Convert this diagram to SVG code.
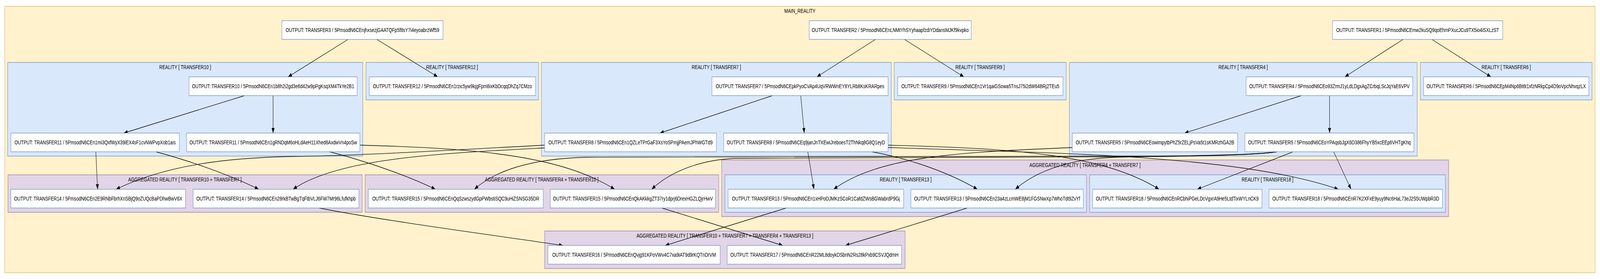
<svg xmlns="http://www.w3.org/2000/svg" width="5443" height="715" viewBox="0 0 5443 715" preserveAspectRatio="none">
<style>
svg{width:100vw;height:100vh;overflow:hidden}
text{font-family:"Liberation Sans",Arial,Helvetica,sans-serif;font-size:14.67px;fill:#000;text-anchor:middle}
.main{fill:#fff2cc;stroke:#d6b656;stroke-width:1.3}
.real{fill:#dae8fc;stroke:#6c8ebf;stroke-width:1.3}
.agg{fill:#e1d5e7;stroke:#9673a6;stroke-width:1.3}
.node rect{fill:#ffffff;stroke:#6c8ebf;stroke-width:1.3}
#edges path{fill:none;stroke:#000;stroke-width:1.3;marker-end:url(#ah)}
</style>
<defs>
<marker id="ah" markerWidth="13" markerHeight="10" refX="13" refY="5" orient="auto" markerUnits="userSpaceOnUse"><path d="M0,0 L13,5 L0,10 Z" fill="#000"/></marker>
</defs>
<rect width="5443" height="715" fill="#ffffff"/>
<g id="clusters">
<g id="c_main"><rect class="main" x="16" y="16" width="5410" height="683"/><text x="2721" y="33">MAIN_REALITY</text></g>
<g id="c_reality10"><rect class="real" x="26" y="160" width="1208" height="240"/><text x="630" y="177">REALITY [ TRANSFER10 ]</text></g>
<g id="c_reality12"><rect class="real" x="1245" y="160" width="587" height="96"/><text x="1538" y="177">REALITY [ TRANSFER12 ]</text></g>
<g id="c_reality7"><rect class="real" x="1842" y="160" width="1190" height="240"/><text x="2437" y="177">REALITY [ TRANSFER7 ]</text></g>
<g id="c_reality9"><rect class="real" x="3042" y="160" width="585" height="96"/><text x="3334" y="177">REALITY [ TRANSFER9 ]</text></g>
<g id="c_reality4"><rect class="real" x="3638" y="160" width="1183" height="240"/><text x="4229" y="177">REALITY [ TRANSFER4 ]</text></g>
<g id="c_reality6"><rect class="real" x="4832" y="160" width="584" height="96"/><text x="5124" y="177">REALITY [ TRANSFER6 ]</text></g>
<g id="c_agg10_7"><rect class="agg" x="27" y="448" width="1205" height="96"/><text x="629" y="465">AGGREGATED REALITY [ TRANSFER10 + TRANSFER7 ]</text></g>
<g id="c_agg4_10"><rect class="agg" x="1242" y="448" width="1203" height="96"/><text x="1843" y="465">AGGREGATED REALITY [ TRANSFER4 + TRANSFER10 ]</text></g>
<g id="c_agg4_7"><rect class="agg" x="2455" y="410" width="2473" height="145"/><text x="3691" y="428">AGGREGATED REALITY [ TRANSFER4 + TRANSFER7 ]</text></g>
<g id="c_reality13"><rect class="real" x="2466" y="448" width="1230" height="96"/><text x="3081" y="465">REALITY [ TRANSFER13 ]</text></g>
<g id="c_reality18"><rect class="real" x="3707" y="448" width="1210" height="96"/><text x="4312" y="465">REALITY [ TRANSFER18 ]</text></g>
<g id="c_agg_all"><rect class="agg" x="1853" y="592" width="1226" height="96"/><text x="2466" y="609">AGGREGATED REALITY [ TRANSFER10 + TRANSFER7 + TRANSFER4 + TRANSFER13 ]</text></g>
</g>
<g id="edges">
<path d="M1184,101 L980,197"/>
<path d="M1282,101 L1489,197"/>
<path d="M832,245 L421,341"/>
<path d="M929,245 L929,341"/>
<path d="M326,389 L332,485"/>
<path d="M530,389 C610,405 760,440 880,485"/>
<path d="M1121,389 C1190,402 1360,440 1481,485"/>
<path d="M1225,372 C1600,380 1900,395 2091,485"/>
<path d="M1852,372 C1550,384 1250,398 1000,401 C760,404 560,425 395,485"/>
<path d="M1852,379 C1500,393 1150,405 997,485"/>
<path d="M2978,101 L2779,197"/>
<path d="M3077,101 L3279,197"/>
<path d="M2628,245 L2245,341"/>
<path d="M2724,245 L2736,341"/>
<path d="M2748,389 L2769,485"/>
<path d="M2966,389 C3050,400 3200,430 3325,485"/>
<path d="M3022,372 C3450,380 3750,395 3943,485"/>
<path d="M3022,378 C3500,392 4200,392 4553,485"/>
<path d="M3647,378 C3300,390 3000,395 2836,485"/>
<path d="M4345,389 C4250,400 3950,400 3800,403 C3650,406 3530,435 3454,485"/>
<path d="M4345,389 C4250,399 4000,400 3800,400 C3000,400 2200,400 2000,403 C1800,406 1680,440 1614,485"/>
<path d="M4345,389 C4250,399 4000,401 3800,402 C3300,403 2700,404 2500,406 C2380,410 2280,440 2217,485"/>
<path d="M4399,389 L4073,485"/>
<path d="M4537,389 L4596,485"/>
<path d="M4773,101 L4575,197"/>
<path d="M4871,101 L5072,197"/>
<path d="M4427,245 L4030,341"/>
<path d="M4523,245 L4523,341"/>
<path d="M1085,533 C1300,565 1700,605 1915,629"/>
<path d="M2675,533 L2263,629"/>
<path d="M2251,533 L2663,629"/>
<path d="M3291,533 L2876,629"/>
</g>
<g id="n_t3" class="node"><rect x="959" y="53" width="548" height="48"/><text x="1233" y="82">OUTPUT: TRANSFER3 / 5PmsodN6CEnjhxsezjGAATQFp5f8sY7i4eyoabrzWf59</text></g>
<g id="n_t2" class="node"><rect x="2753" y="53" width="551" height="48"/><text x="3028.5" y="82">OUTPUT: TRANSFER2 / 5PmsodN6CEnLNMtYhSYyhaapfzdiYDdansMJKf9kvpko</text></g>
<g id="n_t1" class="node"><rect x="4533" y="53" width="579" height="48"/><text x="4822.5" y="82">OUTPUT: TRANSFER1 / 5PmsodN6CEmw2kuSQ9qoEhmPXucJCu9TX5io4iSXLzST</text></g>
<g id="n_t10" class="node"><rect x="643" y="197" width="572" height="48"/><text x="929" y="226">OUTPUT: TRANSFER10 / 5PmsodN6CEn1b8h2i2gd3e6d42w9pPgKsqXM4TkYe2B1</text></g>
<g id="n_t12" class="node"><rect x="1256" y="197" width="566" height="48"/><text x="1539" y="226">OUTPUT: TRANSFER12 / 5PmsodN6CEn1rzic5yw9kjgFpm8ixKbDcqqDhZq7CMzo</text></g>
<g id="n_t7" class="node"><rect x="2422" y="197" width="599" height="48"/><text x="2721.5" y="226">OUTPUT: TRANSFER7 / 5PmsodN6CEpkPyoCVAp4UqVRWWnEY8YLRb8KsKRARpes</text></g>
<g id="n_t9" class="node"><rect x="3054" y="197" width="562" height="48"/><text x="3335" y="226">OUTPUT: TRANSFER9 / 5PmsodN6CEn1Vr1qaiGSowa5TnsJ75i2dW64BRj2TEu5</text></g>
<g id="n_t4" class="node"><rect x="4239" y="197" width="567" height="48"/><text x="4522.5" y="226">OUTPUT: TRANSFER4 / 5PmsodN6CEo93ZrmJ1yLdLDgxAgZCrbqLScJqYaE6VPV</text></g>
<g id="n_t6" class="node"><rect x="4843" y="197" width="562" height="48"/><text x="5124" y="226">OUTPUT: TRANSFER6 / 5PmsodN6CEpM4Np6Bt6t1xfzNRkpCp4D9oVpcNhvqzLX</text></g>
<g id="n_t11a" class="node"><rect x="37" y="341" width="573" height="48"/><text x="323.5" y="370">OUTPUT: TRANSFER11 / 5PmsodN6CEn1mi3QxfWyX39iEX4sF1cvNWPvpXob1ais</text></g>
<g id="n_t11b" class="node"><rect x="635" y="341" width="589" height="48"/><text x="929.5" y="370">OUTPUT: TRANSFER11 / 5PmsodN6CEn1gRNDqM6oHLdAeH11Xhed8AxdwVn4poSw</text></g>
<g id="n_t8a" class="node"><rect x="1853" y="341" width="584" height="48"/><text x="2145" y="370">OUTPUT: TRANSFER8 / 5PmsodN6CEn1QZLeTPrGaF3XsYoSPmjjPAemJPhWGTd9</text></g>
<g id="n_t8b" class="node"><rect x="2462" y="341" width="559" height="48"/><text x="2741.5" y="370">OUTPUT: TRANSFER8 / 5PmsodN6CEq9janJnTXEwiJreboesT2ThNkq8G8Q1eyD</text></g>
<g id="n_t5a" class="node"><rect x="3648" y="341" width="562" height="48"/><text x="3929" y="370">OUTPUT: TRANSFER5 / 5PmsodN6CEowimpytbPhZ5rZELjPsVa5t1sKMRzhGA2B</text></g>
<g id="n_t5b" class="node"><rect x="4235" y="341" width="575" height="48"/><text x="4522.5" y="370">OUTPUT: TRANSFER5 / 5PmsodN6CEoYPAqsbJgX6D386FhyYB5xcEEp6VHTgKhq</text></g>
<g id="n_t14a" class="node"><rect x="37" y="485" width="594" height="48"/><text x="334" y="514">OUTPUT: TRANSFER14 / 5PmsodN6CEn2E9RNbFbrhXnSBjQ9oZUQcBaPDhwBwV6X</text></g>
<g id="n_t14b" class="node"><rect x="657" y="485" width="564" height="48"/><text x="939" y="514">OUTPUT: TRANSFER14 / 5PmsodN6CEn28rkBTwBgTqFtbVLJ6FW7Mr96Lfufkhpb</text></g>
<g id="n_t15a" class="node"><rect x="1253" y="485" width="595" height="48"/><text x="1550.5" y="514">OUTPUT: TRANSFER15 / 5PmsodN6CEnQqSzwszydGpPWbstiSQC9uHiZSNSG35DR</text></g>
<g id="n_t15b" class="node"><rect x="1872" y="485" width="562" height="48"/><text x="2153" y="514">OUTPUT: TRANSFER15 / 5PmsodN6CEnQkAKkkgZT37ry1dprj6DrexHGZLQjrHwV</text></g>
<g id="n_t13a" class="node"><rect x="2477" y="485" width="597" height="48"/><text x="2775.5" y="514">OUTPUT: TRANSFER13 / 5PmsodN6CEn1xHPoDJMKzSCoR1CafdZWsBGWabrdP9Gj</text></g>
<g id="n_t13b" class="node"><rect x="3099" y="485" width="586" height="48"/><text x="3392" y="514">OUTPUT: TRANSFER13 / 5PmsodN6CEn23a4zLcmWE8jM1FGSNwXp7WhoTdt9ZvYf</text></g>
<g id="n_t18a" class="node"><rect x="3717" y="485" width="576" height="48"/><text x="4005" y="514">OUTPUT: TRANSFER18 / 5PmsodN6CEnRCbhiPGeLDcVgxrA9He5LtdTixWYLnCK9</text></g>
<g id="n_t18b" class="node"><rect x="4317" y="485" width="590" height="48"/><text x="4612" y="514">OUTPUT: TRANSFER18 / 5PmsodN6CEnR7K2XFxE9yuy9Nc6HaL73eJ2S5UWpbR3D</text></g>
<g id="n_t16" class="node"><rect x="1864" y="629" width="586" height="48"/><text x="2157" y="658">OUTPUT: TRANSFER16 / 5PmsodN6CEnQvjg91KPoVWv4C7xa9iAT9d9rKQTnDrVM</text></g>
<g id="n_t17" class="node"><rect x="2474" y="629" width="593" height="48"/><text x="2770.5" y="658">OUTPUT: TRANSFER17 / 5PmsodN6CEnR22ML8doykDSbnN2Rs28kPxb9CSVJQdmH</text></g>
</svg>
